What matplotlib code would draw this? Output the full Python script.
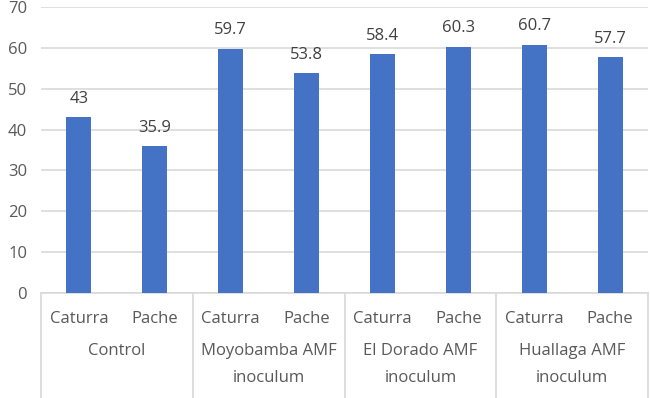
import matplotlib.pyplot as plt
import numpy as np

groups = ['Control', 'Moyobamba AMF\ninoculum', 'El Dorado AMF\ninoculum', 'Huallaga AMF\ninoculum']
varieties = ['Caturra', 'Pache']
values = [43, 35.9, 59.7, 53.8, 58.4, 60.3, 60.7, 57.7]
value_labels = ['43', '35.9', '59.7', '53.8', '58.4', '60.3', '60.7', '57.7']
yticks = [0, 10, 20, 30, 40, 50, 60, 70]

plt.rcParams['font.family'] = ['Open Sans', 'DejaVu Sans']
text_color = '#595959'
grid_color = '#d9d9d9'
bar_color = '#4472c4'
fs = 12

W, H = 650, 398
fig = plt.figure(figsize=(W / 100, H / 100), dpi=100)
left, right, top, bottom = 41, 648, 7, 293
ax = fig.add_axes([left / W, 1 - bottom / H, (right - left) / W, (bottom - top) / H])

n = len(values)
x = np.arange(n)
ax.bar(x, values, width=0.33, color=bar_color, zorder=3)
for xi, v, lab in zip(x, values, value_labels):
    ax.text(xi, v + 2.6, lab, ha='center', va='bottom', fontsize=fs, color='#404040')

ax.set_xlim(-0.5, n - 0.5)
ax.set_ylim(0, 70)
ax.set_yticks(yticks)
ax.yaxis.grid(True, color=grid_color, linewidth=1.2, zorder=0)
ax.tick_params(axis='y', length=0, labelsize=fs, labelcolor=text_color, pad=10)
ax.set_xticks([])
for s in ['top', 'right', 'left']:
    ax.spines[s].set_visible(False)
ax.spines['bottom'].set_color(grid_color)
ax.spines['bottom'].set_linewidth(1.2)

trans = ax.get_xaxis_transform()
ph = bottom - top

# sub-category labels
for i in range(n):
    ax.text(x[i], -(319 - bottom) / ph, varieties[i % 2], transform=trans,
            ha='center', va='center', fontsize=fs, color=text_color)

# group labels
for g, name in enumerate(groups):
    ax.text(2 * g + 0.5, -(343 - bottom) / ph, name, transform=trans, ha='center', va='top',
            fontsize=fs, color=text_color, linespacing=1.95)

# group separators
sep_bottom = -(H - bottom) / ph
for g in range(len(groups) + 1):
    ax.plot([2 * g - 0.5] * 2, [0, sep_bottom], transform=trans, color=grid_color,
            linewidth=1.2, clip_on=False)

fig.savefig('out.png', dpi=100)
